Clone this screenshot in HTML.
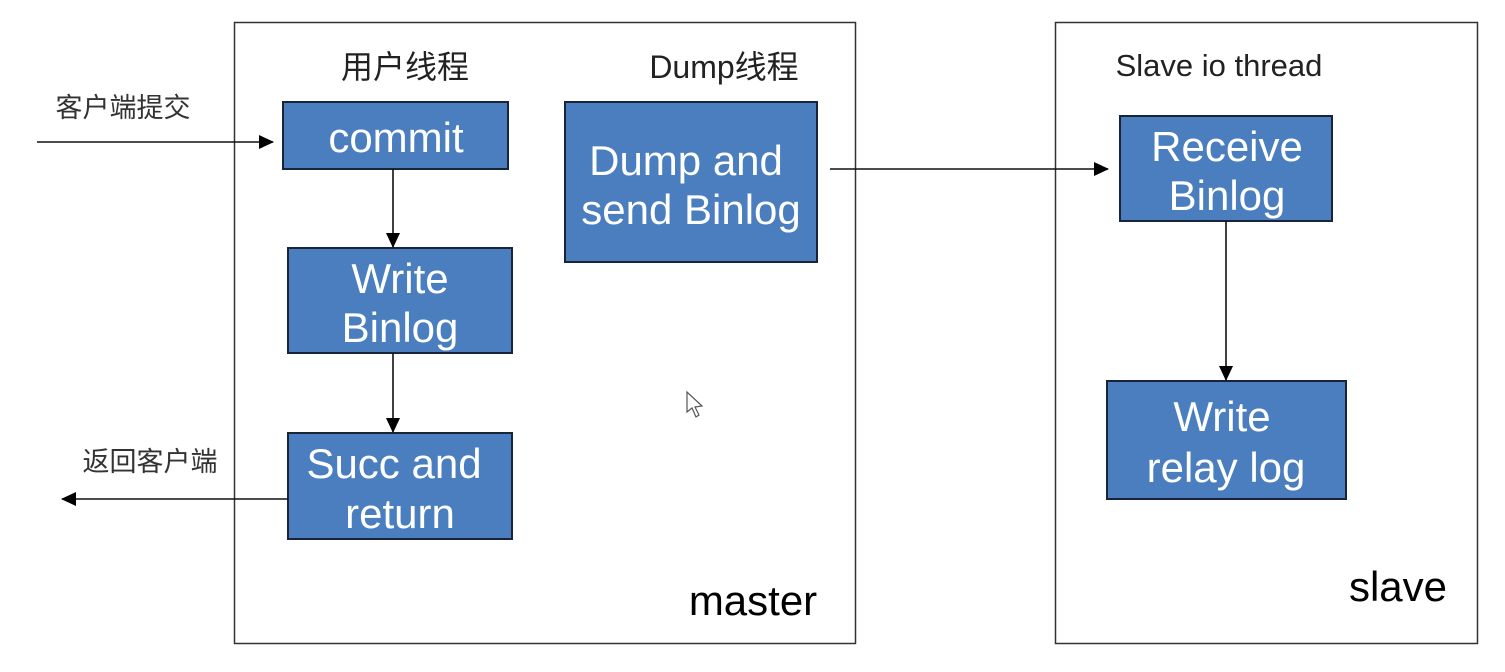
<!DOCTYPE html>
<html><head><meta charset="utf-8"><style>
html,body{margin:0;padding:0;background:#fff;}
svg{display:block;}
text{font-family:"Liberation Sans","Noto Sans CJK SC",sans-serif;}
.b{fill:#4a7ebf;stroke:#1a2438;stroke-width:2;}
.t{fill:#fff;font-size:42px;text-anchor:middle;}
.l{stroke:#111;stroke-width:1.6;fill:none;}
.k{fill:#222;}
</style></head><body>
<svg width="1505" height="672" viewBox="0 0 1505 672" xmlns="http://www.w3.org/2000/svg">
<defs><marker id="a" markerWidth="15" markerHeight="14" refX="14" refY="7" orient="auto" markerUnits="userSpaceOnUse"><path d="M0,0 L15,7 L0,14 z" fill="#000"/></marker></defs>
<rect x="234.5" y="22.5" width="621" height="621" fill="none" stroke="#333" stroke-width="1.5"/>
<rect x="1055.5" y="22.5" width="422" height="621" fill="none" stroke="#333" stroke-width="1.5"/>

<text x="405" y="78" font-size="32" text-anchor="middle" class="k">用户线程</text>
<text x="724" y="78" font-size="32" text-anchor="middle" class="k">Dump线程</text>
<text x="1219" y="76" font-size="31" text-anchor="middle" class="k">Slave io thread</text>
<text x="123" y="117" font-size="27" text-anchor="middle" fill="#333">客户端提交</text>
<text x="150" y="471" font-size="27" text-anchor="middle" fill="#333">返回客户端</text>
<text x="753" y="615" font-size="42" text-anchor="middle" fill="#000">master</text>
<text x="1398" y="601" font-size="42" text-anchor="middle" fill="#000">slave</text>

<rect class="b" x="283" y="102" width="225" height="67"/>
<text class="t" x="396" y="152">commit</text>
<rect class="b" x="288" y="248" width="224" height="105"/>
<text class="t" x="400" y="293">Write</text><text class="t" x="400" y="342">Binlog</text>
<rect class="b" x="288" y="433" width="224" height="106"/>
<text class="t" x="394" y="478">Succ and</text><text class="t" x="400" y="528">return</text>
<rect class="b" x="565" y="102" width="252" height="160"/>
<text class="t" x="686" y="175">Dump and</text><text class="t" x="691" y="224">send Binlog</text>
<rect class="b" x="1120" y="116" width="212" height="105"/>
<text class="t" x="1227" y="161">Receive</text><text class="t" x="1227" y="210">Binlog</text>
<rect class="b" x="1107" y="381" width="239" height="118"/>
<text class="t" x="1222" y="431">Write</text><text class="t" x="1226" y="482">relay log</text>

<line class="l" x1="37" y1="142" x2="273" y2="142" marker-end="url(#a)"/>
<line class="l" x1="393" y1="169" x2="393" y2="247" marker-end="url(#a)"/>
<line class="l" x1="393" y1="353" x2="393" y2="432" marker-end="url(#a)"/>
<line class="l" x1="288" y1="499" x2="62" y2="499" marker-end="url(#a)"/>
<line class="l" x1="830" y1="169" x2="1108" y2="169" marker-end="url(#a)"/>
<line class="l" x1="1226" y1="221" x2="1226" y2="380" marker-end="url(#a)"/>

<path d="M687,392 L687,412 L692,408 L696,417 L699,415 L695,407 L702,406 Z" fill="#fff" stroke="#555" stroke-width="1.2"/>
</svg>
</body></html>
